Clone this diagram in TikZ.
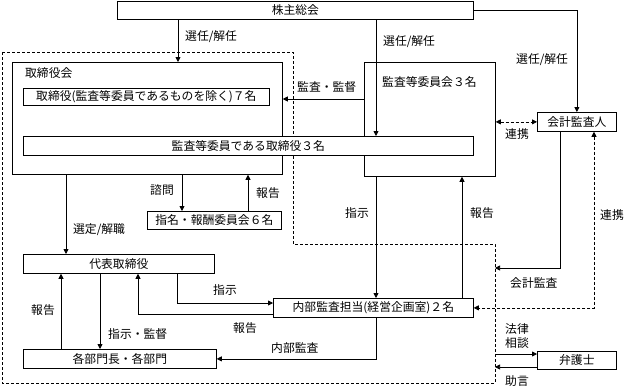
\documentclass[tikz,border=0pt]{standalone}
\usepackage{fontspec}
\setmainfont{Noto Sans CJK JP}
\usetikzlibrary{arrows.meta}
\begin{document}
\begin{tikzpicture}[x=1pt,y=-1pt,
  font=\fontsize{11.8}{13}\selectfont,
  box/.style={draw, line width=0.75pt, inner sep=0pt, anchor=north west},
  arr/.style={line width=0.75pt, -{Triangle[length=5pt,width=5pt]}},
  darr/.style={line width=0.75pt, dash pattern=on 3pt off 2pt, {Triangle[length=5pt,width=5pt]}-{Triangle[length=5pt,width=5pt]}},
  lab/.style={inner sep=0pt, anchor=west},
  region/.style={line width=0.75pt, dash pattern=on 3pt off 2pt}]
\useasboundingbox (0,0) rectangle (625,386);
% dashed region
\draw[region] (2,52) -- (293,52) -- (293,244) -- (495,244) -- (495,383) -- (2,383) -- cycle;
% boxes
\node[box, minimum width=356pt, minimum height=18pt] (kabu) at (117,1) {株主総会};
\node[box, minimum width=270pt, minimum height=112pt] (torikai) at (12,62) {};
\node[lab] (torikailab) at (25,73) {取締役会};
\node[box, minimum width=246pt, minimum height=17pt] (tori7) at (23,88) {取締役(監査等委員であるものを除く)７名};
\node[box, minimum width=131pt, minimum height=114pt] (kansaikai) at (364,62) {};
\node[lab] (kansaikailab) at (382,82) {監査等委員会３名};
\node[box, fill=white, minimum width=450pt, minimum height=19pt] (kansa3) at (23,136) {監査等委員である取締役３名};
\node[box, minimum width=79pt, minimum height=19pt] (kaikei) at (537,112) {会計監査人};
\node[box, minimum width=134pt, minimum height=18pt] (shimei) at (147,211) {指名・報酬委員会６名};
\node[box, minimum width=191pt, minimum height=19pt] (daihyo) at (23,254) {代表取締役};
\node[box, minimum width=200pt, minimum height=19pt] (naibu) at (273,298) {内部監査担当(経営企画室)２名};
\node[box, minimum width=193pt, minimum height=19pt] (kakubu) at (23,349) {各部門長・各部門};
\node[box, minimum width=79pt, minimum height=18pt] (bengo) at (537,351) {弁護士};
% free ends on the dashed border
\coordinate (kaikeiend) at (495,268);
\coordinate (houritsu) at (495,354);
\coordinate (jogen) at (495,367);
% connectors
\draw[arr] (kabu.south -| 178,0) -- (torikai.north -| 178,0);
\draw[arr] (kabu.south -| 376,0) -- (kansa3.north -| 376,0);
\draw[arr] (kabu.east) -| (kaikei.north);
\draw[arr] (kansaikai.west |- 0,99) -- (torikai.east |- 0,99);
\draw[darr] (kansaikai.east |- kaikei.west) -- (kaikei.west);
\draw[arr] (torikai.south -| 182,0) -- (shimei.north -| 182,0);
\draw[arr] (shimei.north -| 248,0) -- (torikai.south -| 248,0);
\draw[arr] (torikai.south -| 66,0) -- (daihyo.north -| 66,0);
\draw[arr] (kansaikai.south -| 376,0) -- (naibu.north -| 376,0);
\draw[arr] (naibu.north -| 462,0) -- (kansaikai.south -| 462,0);
\draw[arr] (kaikei.south -| 560,0) |- (kaikeiend);
\draw[darr] (kaikei.south -| 594,0) |- (naibu.east);
\draw[arr] (daihyo.south -| 177,0) |- (naibu.west |- 0,303);
\draw[arr] (naibu.west |- 0,314) -| (daihyo.south -| 138,0);
\draw[arr] (naibu.south -| 376,0) |- (kakubu.east);
\draw[arr] (kakubu.north -| 61,0) -- (daihyo.south -| 61,0);
\draw[arr] (daihyo.south -| 100,0) -- (kakubu.north -| 100,0);
\draw[arr] (houritsu) -- (bengo.west |- houritsu);
\draw[arr] (bengo.west |- jogen) -- (jogen);
% labels
\node[lab] (l1) at (185,37) {選任/解任};
\node[lab] (l2) at (383,42) {選任/解任};
\node[lab] (l3) at (516,60) {選任/解任};
\node[lab] (l4) at (297,87) {監査・監督};
\node[lab] (l5) at (505,134) {連携};
\node[lab] (l6) at (150,190) {諮問};
\node[lab] (l7) at (256,193) {報告};
\node[lab] (l8) at (73,230) {選定/解職};
\node[lab] (l9) at (345,213) {指示};
\node[lab] (l10) at (470,213) {報告};
\node[lab] (l11) at (600,215) {連携};
\node[lab] (l12) at (510,283) {会計監査};
\node[lab] (l13) at (213,290) {指示};
\node[lab] (l14) at (31,310) {報告};
\node[lab] (l15) at (108,334) {指示・監督};
\node[lab] (l16) at (233,328) {報告};
\node[lab] (l17) at (271,348) {内部監査};
\node[lab] (l18) at (505,329) {法律};
\node[lab] (l19) at (505,343) {相談};
\node[lab] (l20) at (505,381) {助言};
\end{tikzpicture}
\end{document}
